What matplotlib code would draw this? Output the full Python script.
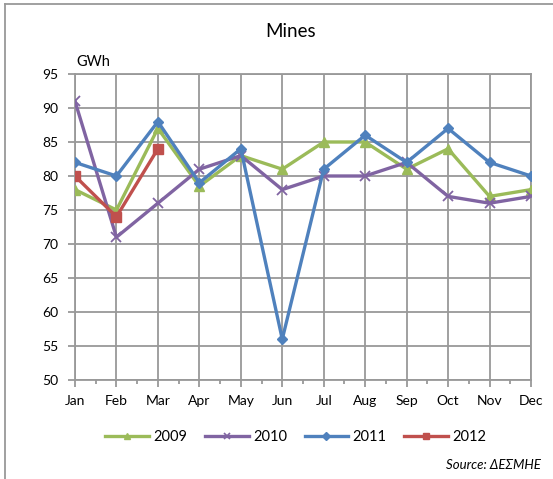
import matplotlib.pyplot as plt
from matplotlib.lines import Line2D
from matplotlib.ticker import MultipleLocator

# monthly mines output, GWh
months = ['Jan', 'Feb', 'Mar', 'Apr', 'May', 'Jun', 'Jul', 'Aug', 'Sep', 'Oct', 'Nov', 'Dec']
y2009 = [78, 75, 87, 78.5, 83, 81, 85, 85, 81, 84, 77, 78]
y2010 = [91, 71, 76, 81, 83, 78, 80, 80, 82, 77, 76, 77]
y2011 = [82, 80, 88, 79, 84, 56, 81, 86, 82, 87, 82, 80]
y2012 = [80, 74, 84]

plt.rcParams['font.family'] = ['Lato', 'DejaVu Sans']

fig = plt.figure(figsize=(5.53, 4.79), dpi=100)
ax = fig.add_axes([0.1356, 0.2067, 0.8246, 0.6388])

x = list(range(len(months)))
ax.plot(x, y2009, color='#9BBB59', lw=2.4, marker='^', ms=6.5, label='2009', zorder=3)
ax.plot(x, y2010, color='#8064A2', lw=2.4, marker='x', ms=7, mew=1.3, label='2010', zorder=3)
ax.plot(x, y2011, color='#4F81BD', lw=2.4, marker='D', ms=5.5, label='2011', zorder=4)
ax.plot(x[:len(y2012)], y2012, color='#C0504D', lw=2.4, marker='s', ms=6.5, label='2012', zorder=5)

ax.set_xlim(0, 11)
ax.set_ylim(50, 95)
ax.set_xticks(x)
ax.set_xticklabels(months)
ax.xaxis.set_minor_locator(MultipleLocator(0.5))
ax.yaxis.set_major_locator(MultipleLocator(5))
ax.grid(True, color='#999999', lw=1.3)
ax.set_axisbelow(True)
for s in ax.spines.values():
    s.set_color('#999999')
    s.set_linewidth(1.3)
ax.tick_params(axis='both', which='major', length=5, width=1.3, color='#999999',
               labelsize=10)
ax.tick_params(axis='y', which='major', pad=7)
ax.tick_params(axis='x', which='major', pad=6)
ax.tick_params(axis='x', which='minor', length=3, width=1.3, color='#999999')
ax.tick_params(axis='y', which='minor', length=0)

fig.text(0.525, 0.935, 'Mines', ha='center', va='center', fontsize=13.5)
fig.text(0.138, 0.87, 'GWh', ha='left', va='center', fontsize=10.5)

handles = [
    Line2D([], [], color='#9BBB59', lw=2.4, marker='^', ms=5),
    Line2D([], [], color='#8064A2', lw=2.4, marker='x', ms=5, mew=1.2),
    Line2D([], [], color='#4F81BD', lw=2.4, marker='D', ms=4),
    Line2D([], [], color='#C0504D', lw=2.4, marker='s', ms=5),
]
fig.legend(handles, ['2009', '2010', '2011', '2012'], loc='center', ncol=4,
           bbox_to_anchor=(0.535, 0.087), frameon=False, fontsize=10.5,
           handlelength=3.0, handletextpad=0.3, columnspacing=1.2)

fig.text(0.978, 0.029, 'Source: ΔΕΣΜΗΕ', ha='right', va='center', fontsize=9.5,
         style='italic')

# chart frame (left and top edges visible)
fig.add_artist(Line2D([0.009, 0.009], [0, 0.992], color='#999999', lw=1.3))
fig.add_artist(Line2D([0.009, 1.0], [0.992, 0.992], color='#999999', lw=1.3))

fig.savefig('out.png', dpi=100)
